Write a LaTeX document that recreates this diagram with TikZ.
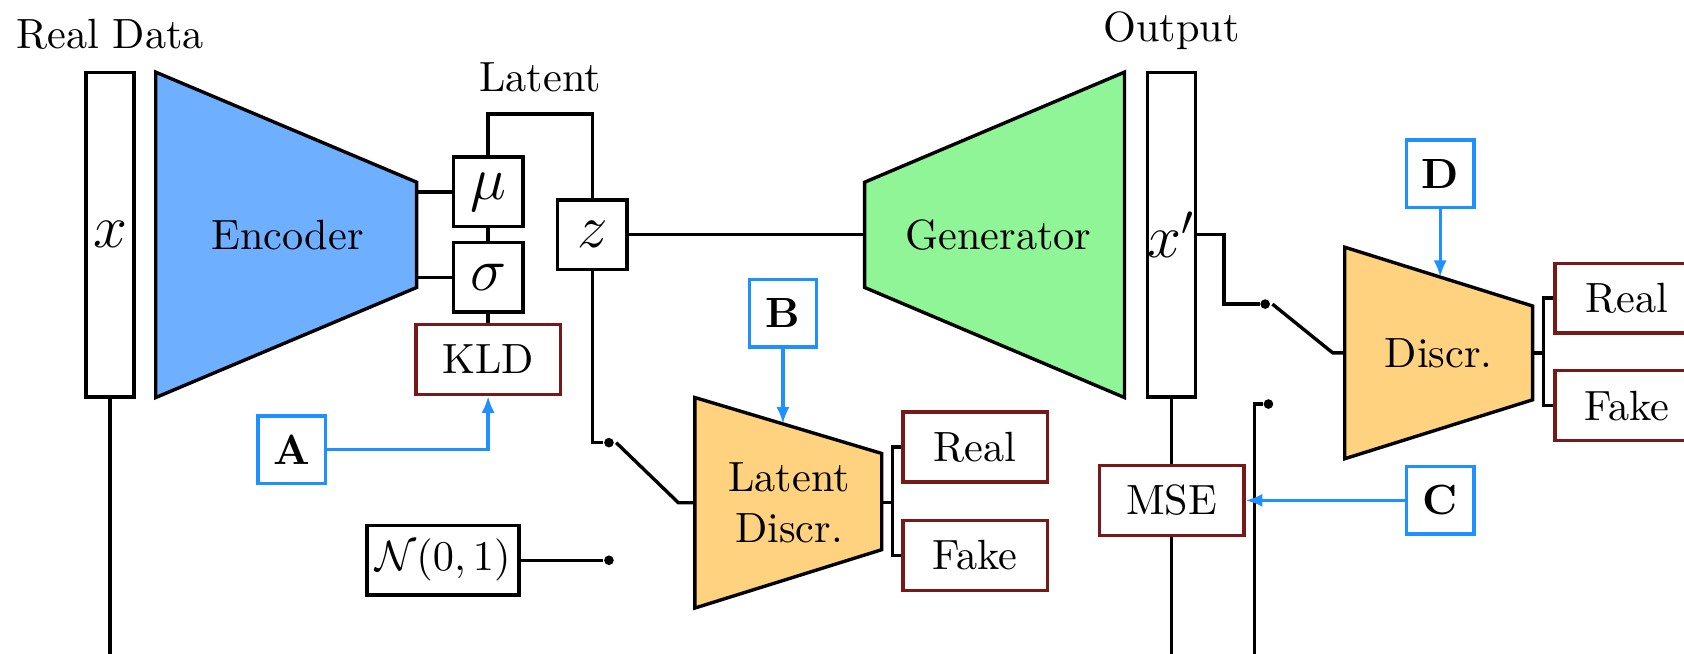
\documentclass[tikz,border=0pt]{standalone}
\usepackage{amsmath}
\usepackage{tikz}
\usetikzlibrary{%
    arrows.meta,%
    calc%
}
\definecolor{encblue}{RGB}{110,175,255}
\definecolor{gengreen}{RGB}{144,245,150}
\definecolor{discorange}{RGB}{255,210,128}
\definecolor{lossred}{RGB}{120,25,25}
\definecolor{tagblue}{RGB}{30,144,255}

\begin{document}
\begin{tikzpicture}[
  net/.style={draw,thick,line join=miter},
  bar/.style={draw,thick,minimum width=0.4cm,minimum height=2.7cm,inner sep=0pt,font=\Large},
  var/.style={draw,thick,minimum size=0.58cm,inner sep=0pt,font=\Large},
  loss/.style={draw=lossred,thick,minimum width=1.2cm,minimum height=0.58cm,inner sep=0pt},
  tag/.style={draw=tagblue,thick,minimum size=0.56cm,inner sep=0pt,font=\bfseries},
  wire/.style={thick},
  hint/.style={tagblue,thick,-{Latex[length=1.4mm,width=1.1mm]}},
  pin/.style={circle,fill,inner sep=0pt,minimum size=0.8mm},
  ]
  \useasboundingbox (0,0) rectangle (14,5.43);
  \clip (0,0) rectangle (14,5.43);

  % Input and encoder
  \node[bar] (x) at (0.915,3.478) {$x$};
  \node[above=0.5mm] (reallbl) at (x.north) {Real Data};
  \filldraw[net,fill=encblue]
  (1.295,4.83)--(3.464,3.915)--(3.464,3.04)--(1.295,2.125)--cycle;
  \node (enclbl) at (2.39,3.478) {Encoder};
  \coordinate (enc-mu) at (3.464,3.835);
  \coordinate (enc-sigma) at (3.464,3.125);

  % Latent variables
  \node[var] (mu) at (4.058,3.835) {$\mu$};
  \node[var] (sigma) at (4.058,3.125) {$\sigma$};
  \node[loss] (kld) at (4.058,2.442) {KLD};
  \node[var] (z) at (4.924,3.478) {$z$};
  \coordinate (lat) at (4.924,4.482);
  \draw[wire] (enc-mu)--(mu);
  \draw[wire] (enc-sigma)--(sigma);
  \draw[wire] (mu)--(sigma)--(kld);
  \draw[wire] (mu.north) |- node[pos=0.75,above=0.5mm] (latlbl) {Latent} (lat)--(z);

  % Generator and output
  \filldraw[net,fill=gengreen]
  (7.188,3.915)--(9.348,4.83)--(9.348,2.125)--(7.188,3.04)--cycle;
  \node (genlbl) at (8.3,3.478) {Generator};
  \coordinate (gen-in) at (7.188,3.478);
  \draw[wire] (z)--(gen-in);
  \node[bar] (xp) at (9.741,3.478) {$x^{\prime}$};
  \node[above=0.5mm] (outlbl) at (xp.north) {Output};

  % Reconstruction loss
  \node[loss] (mse) at (9.741,1.27) {MSE};
  \coordinate (bot-x) at (0.915,-0.2);
  \coordinate (bot-xp) at (9.741,-0.2);
  \coordinate (bot-sw) at (10.429,-0.2);
  \draw[wire] (x)--(bot-x);
  \draw[wire] (xp)--(mse)--(bot-xp);

  % Image discriminator with its switch
  \filldraw[net,fill=discorange]
  (11.179,3.375)--(12.741,2.886)--(12.741,2.106)--(11.179,1.616)--cycle;
  \node (dlbl) at (11.96,2.496) {Discr.};
  \coordinate (d-in) at (11.179,2.496);
  \coordinate (d-out) at (12.741,2.496);
  \coordinate (d-fork) at (12.83,2.496);
  \coordinate (d-top) at (11.973,3.125);
  \node[pin] (sw1) at (10.518,2.902) {};
  \node[pin] (sw2) at (10.545,2.071) {};
  \draw[wire] (xp.east) -- ++(0.22,0) |- (sw1);
  \draw[wire] ($(sw1)+(0.06,0)$)--(11.08,2.496)--(d-in);
  \draw[wire] (sw2) -| (bot-sw);
  \node[loss] (real2) at (13.527,2.951) {Real};
  \node[loss] (fake2) at (13.527,2.058) {Fake};
  \draw[wire] (d-out)--(d-fork);
  \draw[wire] (real2.west) -| (d-fork) |- (fake2.west);

  % Latent discriminator with its switch
  \filldraw[net,fill=discorange]
  (5.777,2.125)--(7.33,1.66)--(7.33,0.86)--(5.777,0.375)--cycle;
  \node[align=center] (ldlbl) at (6.56,1.25) {Latent\\Discr.};
  \coordinate (ld-in) at (5.777,1.25);
  \coordinate (ld-out) at (7.33,1.25);
  \coordinate (ld-fork) at (7.42,1.25);
  \coordinate (ld-top) at (6.509,1.906);
  \node[pin] (sw3) at (5.0625,1.75) {};
  \node[pin] (sw4) at (5.0625,0.772) {};
  \node[draw,thick,minimum height=0.58cm,inner sep=2pt] (prior) at (3.683,0.772) {$\mathcal{N}(0,1)$};
  \draw[wire] (z) |- (sw3);
  \draw[wire] ($(sw3)+(0.06,0)$)--(5.64,1.25)--(ld-in);
  \draw[wire] (prior)--(sw4);
  \node[loss] (real1) at (8.107,1.714) {Real};
  \node[loss] (fake1) at (8.107,0.813) {Fake};
  \draw[wire] (ld-out)--(ld-fork);
  \draw[wire] (real1.west) -| (ld-fork) |- (fake1.west);

  % Training steps
  \node[tag] (tagA) at (2.424,1.692) {A};
  \node[tag] (tagB) at (6.509,2.826) {B};
  \node[tag] (tagC) at (11.973,1.27) {C};
  \node[tag] (tagD) at (11.973,3.987) {D};
  \draw[hint] (tagA) -| (kld);
  \draw[hint] (tagB)--(ld-top);
  \draw[hint] (tagC)--(mse);
  \draw[hint] (tagD)--(d-top);
\end{tikzpicture}
\end{document}
